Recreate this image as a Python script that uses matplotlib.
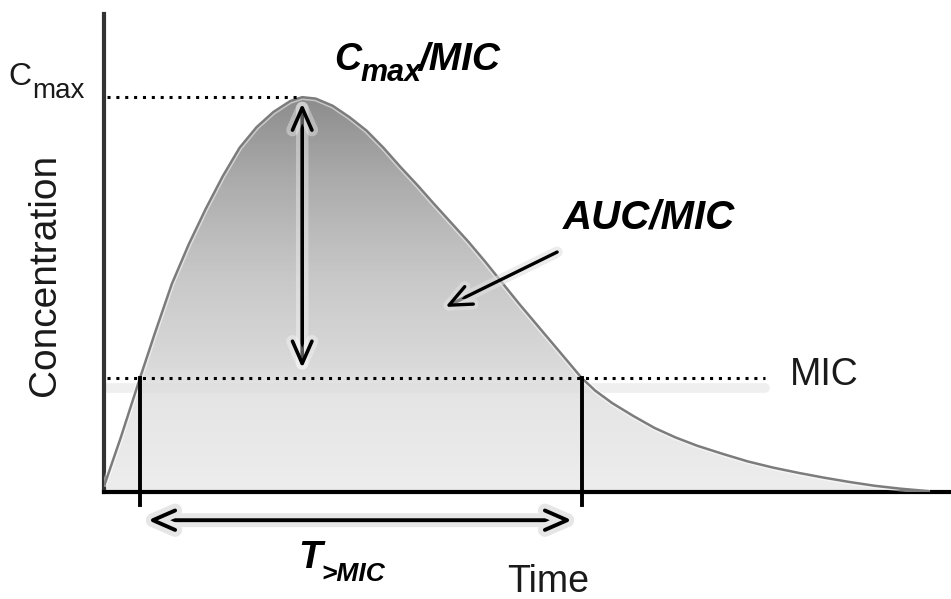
import numpy as np
import matplotlib
matplotlib.use("Agg")
import matplotlib.pyplot as plt
import matplotlib.patheffects as pe
from matplotlib.colors import LinearSegmentedColormap
from matplotlib.patches import PathPatch

plt.rcParams['font.family'] = ['Liberation Sans', 'DejaVu Sans']

# concentration-time curve (arbitrary units, axes 0..100)
time = [0.1, 2.0, 4.25, 6.0, 8.0, 10.0, 12.0, 14.0, 16.0, 18.0, 20.0, 22.0,
        23.4, 25.0, 27.0, 29.0, 31.0, 33.0, 35.0, 37.0, 39.0, 41.0, 43.0,
        45.0, 47.0, 49.0, 51.0, 53.0, 55.0, 56.4, 58.0, 60.0, 62.5, 65.0,
        67.5, 70.0, 73.0, 76.0, 79.0, 82.0, 85.0, 88.0, 91.0, 94.0, 97.2]
conc = [1.7, 11.5, 23.85, 33.2, 43.5, 51.8, 59.2, 66.0, 72.0, 76.3, 79.5, 81.8,
        82.6, 82.3, 80.8, 78.4, 75.6, 72.0, 68.0, 64.2, 60.2, 56.3, 52.4,
        48.2, 43.8, 39.4, 35.2, 31.0, 26.8, 23.85, 21.2, 18.6, 15.9, 13.4,
        11.4, 9.7, 8.0, 6.4, 5.1, 4.0, 3.0, 2.1, 1.3, 0.7, 0.2]
mic = 23.85
t_above = [4.25, 56.4]     # times where the curve crosses the MIC
mic_line_end = 78.0

cmax = max(conc)
t_peak = time[conc.index(cmax)]

fig = plt.figure(figsize=(9.51, 5.99), dpi=100)
ax = fig.add_axes([104 / 951, 107 / 599, 847 / 951, 478 / 599])
ax.set_xlim(0, 100)
ax.set_ylim(0, 100)
ax.set_xticks([])
ax.set_yticks([])
for s in ['top', 'right']:
    ax.spines[s].set_visible(False)
ax.spines['left'].set_linewidth(3)
ax.spines['left'].set_color('#333333')
ax.spines['bottom'].set_linewidth(3)
ax.spines['bottom'].set_color('black')

# gradient fill under the curve
fill = ax.fill_between(time, conc, 0, color='none', lw=0)
clip = PathPatch(fill.get_paths()[0], transform=ax.transData, fc='none', ec='none')
ax.add_patch(clip)
cmap = LinearSegmentedColormap.from_list('grad', [
    (0.0, '#ededed'), (0.22, '#e4e4e4'), (0.26, '#dadada'), (0.45, '#c8c8c8'),
    (0.65, '#acacac'), (0.83, '#8c8c8c'), (1.0, '#858585')])
grad = np.linspace(0, 1, 300).reshape(-1, 1)
img = ax.imshow(grad, extent=[0, 100, 0, 100], origin='lower', aspect='auto',
                cmap=cmap, zorder=1)
img.set_clip_path(clip)

# curve with light inner highlight
ax.plot(time, conc, color='#7c7c7c', lw=1.8, zorder=3,
        path_effects=[pe.Stroke(linewidth=4, foreground='white', alpha=0.5), pe.Normal()])

# MIC shadow band
ax.plot([0.3, mic_line_end], [mic - 2.0, mic - 2.0], color='#dcdcdc', lw=7,
        alpha=0.45, zorder=2, solid_capstyle='round')

# dotted reference lines
ax.plot([0.3, t_peak], [cmax, cmax], color='black', lw=2.2,
        linestyle=(0, (1, 1.9)), zorder=4, clip_on=False)
ax.plot([0.3, mic_line_end], [mic, mic], color='black', lw=2.2,
        linestyle=(0, (1, 1.9)), zorder=4)

# vertical markers at the MIC crossings
for t in t_above:
    ax.plot([t, t], [mic, -2.7], color='black', lw=2.8, zorder=5, clip_on=False)

# Cmax/MIC arrow
ar = ax.annotate('', xy=(t_peak, cmax - 1.3), xytext=(t_peak, mic + 2.1),
                 arrowprops=dict(arrowstyle='<->,head_length=0.8,head_width=0.35',
                                 lw=2.6, color='black', mutation_scale=20,
                                 shrinkA=0, shrinkB=0), zorder=6)
ar.arrow_patch.set_path_effects([pe.Stroke(linewidth=9, foreground='white', alpha=0.35),
                                 pe.Normal()])

# T>MIC arrow
ar2 = ax.annotate('', xy=(t_above[0] + 0.95, -5.9), xytext=(t_above[1] - 1.15, -5.9),
                  arrowprops=dict(arrowstyle='<->,head_length=0.8,head_width=0.35',
                                  lw=2.8, color='black', mutation_scale=20,
                                  shrinkA=0, shrinkB=0),
                  annotation_clip=False, zorder=6)
ar2.arrow_patch.set_path_effects([pe.Stroke(linewidth=10, foreground='#e6e6e6'),
                                  pe.Normal()])
ar2.arrow_patch.set_clip_on(False)

# AUC arrow
ar3 = ax.annotate('', xy=(40.3, 38.7), xytext=(53.5, 50.2),
                  arrowprops=dict(arrowstyle='->,head_length=0.8,head_width=0.35',
                                  lw=2.4, color='black', mutation_scale=20,
                                  shrinkA=0, shrinkB=0), zorder=6)
ar3.arrow_patch.set_path_effects([pe.Stroke(linewidth=8, foreground='#e0e0e0', alpha=0.6),
                                  pe.Normal()])

# labels
reg = dict(color='#1a1a1a')
bi = dict(color='black', fontweight='bold', fontstyle='italic')

c1 = ax.text(-11.3, 85.1, 'C', fontsize=23, va='baseline', ha='left', **reg)
ax.annotate('max', xy=(1, 0), xycoords=c1, xytext=(0.5, -8.5), textcoords='offset points',
            fontsize=20, va='bottom', ha='left', **reg)

ax.text(-7.0, 45.5, 'Concentration', fontsize=28, rotation=90, ha='center', va='center', **reg)
ax.text(52.4, -21.0, 'Time', fontsize=27, ha='center', va='baseline', **reg)
ax.text(81.0, 22.4, 'MIC', fontsize=27, ha='left', va='baseline', **reg)

t1 = ax.text(27.2, 88.3, 'C', fontsize=27, va='baseline', ha='left', **bi)
t2 = ax.annotate('max', xy=(1, 0), xycoords=t1, xytext=(-1, -7), textcoords='offset points',
                 fontsize=22, va='bottom', ha='left', **bi)
ax.annotate('/MIC', xy=(1, 0), xycoords=t2, xytext=(-2, 7), textcoords='offset points',
            fontsize=28, va='bottom', ha='left', **bi)

ax.text(54.2, 55.2, 'AUC/MIC', fontsize=29, va='baseline', ha='left', **bi)

T1 = ax.text(22.9, -15.9, 'T', fontsize=28, va='baseline', ha='left', **bi)
ax.annotate('>MIC', xy=(1, 0), xycoords=T1, xytext=(0, -7), textcoords='offset points',
            fontsize=19, va='bottom', ha='left', **bi)

fig.savefig('out.png', dpi=100)
